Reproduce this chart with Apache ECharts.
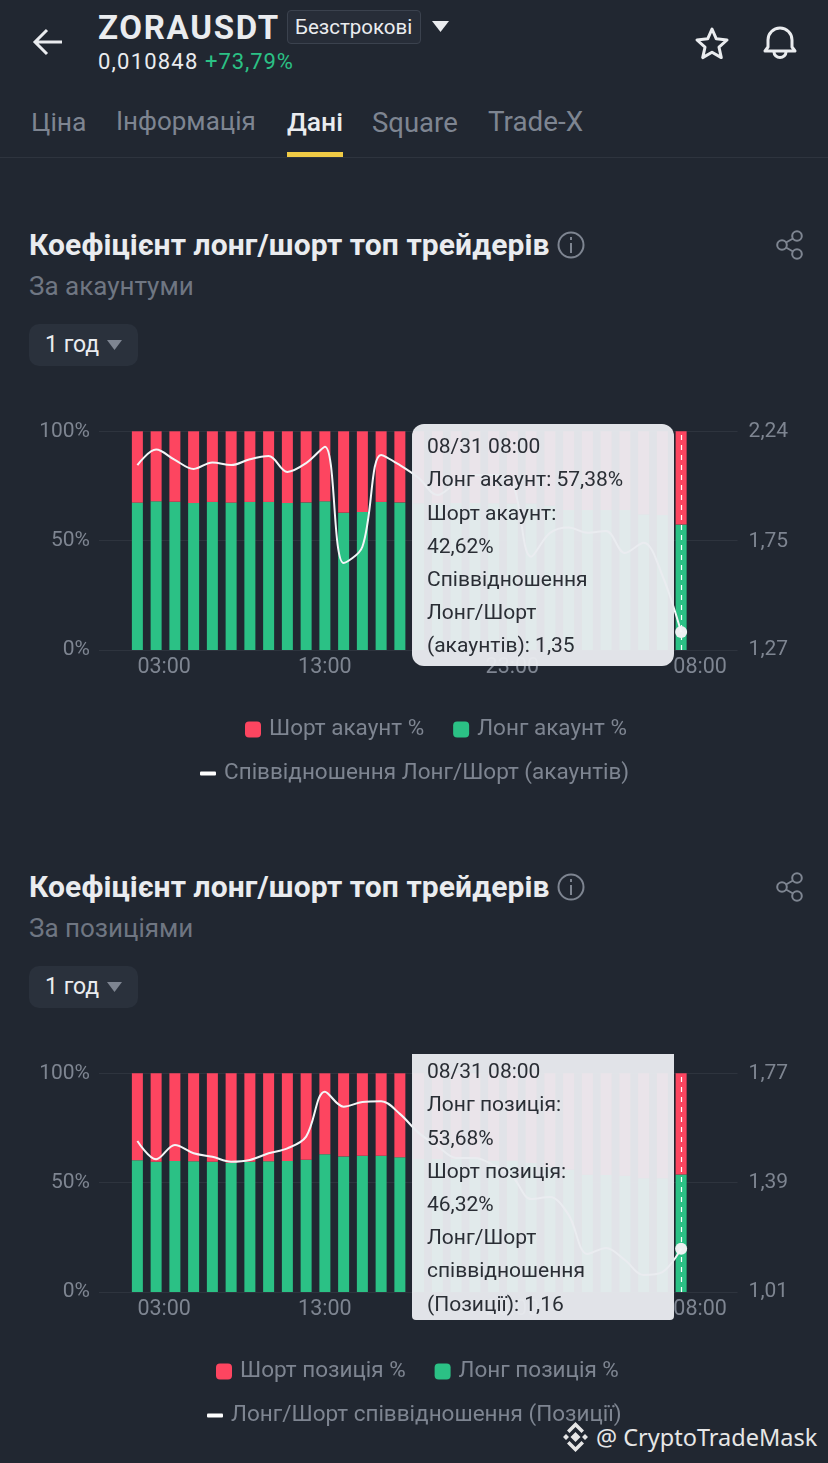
<!DOCTYPE html>
<html><head><meta charset="utf-8">
<script src="https://cdn.jsdelivr.net/npm/echarts@6/dist/echarts.min.js"></script>
<style>
html,body{margin:0;padding:0;background:#212731;width:828px;height:1463px;overflow:hidden;font-family:Roboto,"Noto Sans",sans-serif}
.t{position:absolute;white-space:nowrap;transform:translateY(-50%);line-height:1.2}
.chart{position:absolute;left:0;width:828px;height:400px}
svg{position:absolute;overflow:visible}
</style></head><body>
<div id="chrome"></div>
<div class="chart" id="c1" style="top:400px"></div>
<div class="chart" id="c2" style="top:1042px"></div>
<script>
const hours=['03:00','04:00','05:00','06:00','07:00','08:00','09:00','10:00','11:00','12:00','13:00','14:00','15:00','16:00','17:00','18:00','19:00','20:00','21:00','22:00','23:00','00:00','01:00','02:00','03:00','04:00','05:00','06:00','07:00','08:00'];
const shownLabels=[0,10,20,29];

const longAcc=[67.4,68,67.8,67.2,67.7,67.4,67.7,67.7,67.2,67.5,68,62.8,63.1,67.7,67.5,67.1,67.1,67.2,67.2,67.1,67,67,66,64,64,64,64,62,61.7,57.38];
const shortAcc=[32.6,32,32.2,32.8,32.3,32.6,32.3,32.3,32.8,32.5,32,37.2,36.9,32.3,32.5,32.9,32.9,32.8,32.8,32.9,33,33,34,36,36,36,36,38,38.3,42.62];
const ratioAcc=[2.09,2.159,2.113,2.073,2.102,2.09,2.116,2.13,2.06,2.099,2.172,1.656,1.728,2.135,2.09,2.033,1.957,2.011,2.046,2.046,2.011,1.684,1.789,1.813,1.79,1.798,1.70,1.746,1.60,1.35];

const longPos=[60.2,59.5,59.9,59.8,59.6,59.1,59.5,59.8,59.9,60.5,63,62,62.3,62.3,61.6,60.8,60.8,60.8,60.8,60,60,59,57,56,53.6,53.5,53.2,52,52,53.68];
const shortPos=[39.8,40.5,40.1,40.2,40.4,40.9,40.5,40.2,40.1,39.5,37,38,37.7,37.7,38.4,39.2,39.2,39.2,39.2,40,40,41,43,44,46.4,46.5,46.8,48,48,46.32];
const ratioPos=[1.535,1.471,1.521,1.492,1.48,1.463,1.469,1.492,1.509,1.55,1.706,1.654,1.67,1.673,1.629,1.563,1.517,1.476,1.476,1.451,1.411,1.333,1.34,1.278,1.142,1.163,1.121,1.069,1.079,1.16];

const tipAcc=['08/31 08:00','Лонг акаунт: 57,38%','Шорт акаунт:','42,62%','Співвідношення','Лонг/Шорт','(акаунтів): 1,35'];
const tipPos=['08/31 08:00','Лонг позиція:','53,68%','Шорт позиція:','46,32%','Лонг/Шорт','співвідношення','(Позиції): 1,16'];

const RED='#FD4560',GREEN='#2BC185',GRAY='#7E8591',GRID='#2E343E',FONT='Roboto,"Noto Sans",sans-serif';

function makeOption(c){
  const graphic=[{type:'rect',z:100,shape:{x:412,y:c.tipTop,width:262,height:c.tipH,r:c.tipR},
    style:{fill:'rgba(233,235,239,0.96)'}}];
  c.tip.forEach((s,i)=>graphic.push({type:'text',z:101,x:427,y:c.tipY+i*33.2,
    style:{text:s,fill:'#2A2E35',font:'21px '+FONT,textVerticalAlign:'middle'}}));
  return {
    animation:false,backgroundColor:'transparent',
    grid:[{left:128,right:137.5,top:31.3,height:218.7},{left:99,right:90.4,top:31.3,height:218.7}],
    legend:[
      {data:[c.shortName,c.longName],left:c.legX,top:313,icon:'roundRect',itemWidth:16,itemHeight:16,itemGap:c.legGap,
       textStyle:{color:GRAY,fontSize:22.5,fontFamily:FONT,padding:[0,0,0,3]}},
      {data:[c.lineName],left:c.lineX,top:357,icon:'roundRect',itemWidth:16,itemHeight:4,
       textStyle:{color:GRAY,fontSize:22.5,fontFamily:FONT,padding:[0,0,0,3]}}],
    xAxis:[
      {type:'category',gridIndex:0,data:hours,axisLine:{show:false},axisTick:{show:false},splitLine:{show:false},
       axisLabel:{interval:i=>shownLabels.includes(i),color:GRAY,fontSize:21.5,fontFamily:FONT,margin:7,
         alignMinLabel:'left',alignMaxLabel:'center',
         formatter:(v,i)=>i===29?'{last|'+v+'}':v,
         rich:{last:{color:GRAY,fontSize:21.5,fontFamily:FONT,padding:[0,0,0,38]}}}},
      {type:'value',gridIndex:1,min:0,max:1,show:false}],
    yAxis:[
      {type:'value',gridIndex:0,min:0,max:100,show:false},
      {type:'value',gridIndex:0,min:c.rMin,max:c.rMax,show:false},
      {type:'value',gridIndex:1,position:'left',min:0,max:100,interval:50,axisLine:{show:false},axisTick:{show:false},
       splitLine:{lineStyle:{color:GRID,width:1}},
       axisLabel:{color:GRAY,fontSize:21,fontFamily:FONT,margin:9,padding:[0,0,5,0],formatter:'{value}%'}},
      {type:'value',gridIndex:1,position:'right',min:c.rMin,max:c.rMax,axisLine:{show:false},axisTick:{show:false},splitLine:{show:false},
       axisLabel:{customValues:c.rTicks,color:GRAY,fontSize:21,fontFamily:FONT,margin:11,padding:[0,0,5,0],
         formatter:v=>v.toFixed(2).replace('.',',')}}],
    series:[
      {name:c.longName,type:'bar',stack:'a',xAxisIndex:0,yAxisIndex:0,barWidth:11,data:c.long,itemStyle:{color:GREEN},silent:true},
      {name:c.shortName,type:'bar',stack:'a',xAxisIndex:0,yAxisIndex:0,barWidth:11,data:c.short,itemStyle:{color:RED},silent:true},
      {name:c.lineName,type:'line',xAxisIndex:0,yAxisIndex:1,data:c.ratio,smooth:0.35,showSymbol:false,silent:true,z:5,
       lineStyle:{color:'#F4F5F7',width:2},itemStyle:{color:'#fff'},
       markLine:{silent:true,symbol:'none',label:{show:false},animation:false,
         lineStyle:{color:'#fff',type:[5,5],width:1.2},
         data:[[{xAxis:29,yAxis:c.rMin},{xAxis:29,yAxis:c.rMax}]]},
       markPoint:{silent:true,symbol:'circle',symbolSize:12,label:{show:false},itemStyle:{color:'#EEF0F2'},
         data:[{coord:[29,c.ratio[29]]}]}}],
    graphic:{elements:graphic}
  };
}
echarts.init(document.getElementById('c1')).setOption(makeOption({
  shortName:'Шорт акаунт %',longName:'Лонг акаунт %',lineName:'Співвідношення Лонг/Шорт (акаунтів)',
  long:longAcc,short:shortAcc,ratio:ratioAcc,rMin:1.27,rMax:2.24,rTicks:[1.27,1.75,2.24],
  tip:tipAcc,tipTop:24,tipH:242,tipR:12,tipY:48,legX:240,legGap:29,lineX:195}));
echarts.init(document.getElementById('c2')).setOption(makeOption({
  shortName:'Шорт позиція %',longName:'Лонг позиція %',lineName:'Лонг/Шорт співвідношення (Позиції)',
  long:longPos,short:shortPos,ratio:ratioPos,rMin:1.01,rMax:1.77,rTicks:[1.01,1.39,1.77],
  tip:tipPos,tipTop:12,tipH:266,tipR:[0,0,4,4],tipY:31,legX:211,legGap:29,lineX:202}));

// app chrome
const T=(s,x,y,size,col,w,ls)=>`<span class="t" style="left:${x}px;top:${y}px;font-size:${size}px;color:${col};font-weight:${w||400};letter-spacing:${ls||0}px">${s}</span>`;
let h='';
h+=T('ZORAUSDT',98,28,33,'#EAECEF',700,1.7);
h+=`<div style="position:absolute;left:287px;top:10px;width:132px;height:32px;border:1px solid #3B424E;border-radius:4px;background:#272D38"></div>`;
h+=T('Безстрокові',295,27,20.5,'#EAECEF');
h+=T('0,010848',98,62,22,'#EAECEF',400,1.2)+T('+73,79%',205,62,22,'#2BC185',400,0.9);
const tabs=[['Ціна',31,26.5],['Інформація',116,26],['Дані',287,26.5],['Square',372,27.5],['Trade-X',488,27.8]];
tabs.forEach((a,i)=>h+=T(a[0],a[1],122,a[2],i===2?'#EAECEF':'#7E8591',i===2?500:400));
h+=`<div style="position:absolute;left:0;top:157px;width:828px;height:1px;background:#2E343E"></div>`;
h+=`<div style="position:absolute;left:287px;top:152px;width:56px;height:5px;background:#F0CB45"></div>`;
h+=`<svg style="left:0;top:0" width="828" height="80" fill="none" stroke="#EAECEF" stroke-width="3">
<path d="M62 42H35M47 30L35 42L47 54"/><path d="M432 21H449L440.500 32Z" fill="#EAECEF" stroke="none"/>
<path d="M712 29L716.300 38.800L727 40L719 47.200L721.300 57.600L712 52.200L702.700 57.600L705 47.200L697 40L707.700 38.800Z" stroke-linejoin="round"/>
<path d="M768 47V40A12 12 0 0 1 792 40V47L795 51H765Z" stroke-linejoin="round"/><path d="M774 52A6 5.500 0 0 0 786 52"/></svg>`;
[[0,'За акаунтуми'],[642,'За позиціями']].forEach(([d,sub])=>{
  h+=T('Коефіцієнт лонг/шорт топ трейдерів',29,245+d,30,'#EAECEF',700,0.1);
  h+=T(sub,29,287+d,26,'#6F7682');
  h+=`<div style="position:absolute;left:29px;top:${324+d}px;width:109px;height:42px;border-radius:10px;background:#2A313C"></div>`;
  h+=T('1 год',45,345+d,23,'#EAECEF');
  h+=`<svg style="left:0;top:${d}px" width="828" height="400" fill="none" stroke="#7E8591" stroke-width="2">
  <circle cx="571" cy="245" r="12.500"/><path d="M571 243V253M571 237V240"/>
  <circle cx="797" cy="236" r="4.800"/><circle cx="782" cy="245" r="4.800"/><circle cx="797" cy="254" r="4.800"/><path d="M793 238.500L786 242.500M786 247.500L793 251.500"/>
  <path d="M107 340H122L114.500 350Z" fill="#7E8591" stroke="none"/></svg>`;
});
h+=`<svg style="left:0;top:0" width="828" height="1463" fill="#E6E6E6">
<path d="M575.500 1432L580.500 1437L575.500 1442L570.500 1437ZM566 1434L569 1437L566 1440L563 1437ZM585 1434L588 1437L585 1440L582 1437Z"/>
<path d="M575.500 1422L584 1430.500L581.500 1433L575.500 1427L569.500 1433L567 1430.500ZM575.500 1452L584 1443.500L581.500 1441L575.500 1447L569.500 1441L567 1443.500Z"/></svg>`;
h+=`<span class="t" style="left:596px;top:1437px;font-size:23.500px;color:#E6E6E6;font-family:'Noto Sans'">@ CryptoTradeMask</span>`;
document.getElementById('chrome').innerHTML=h;
</script></body></html>
